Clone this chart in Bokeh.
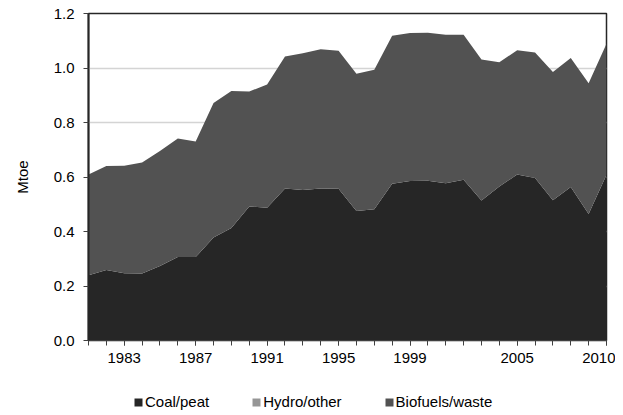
from bokeh.plotting import figure
from bokeh.layouts import column
from bokeh.models import ColumnDataSource, FixedTicker, Legend, LegendItem, Range1d, NumeralTickFormatter
from bokeh.embed import file_html
from bokeh.resources import INLINE

years = list(range(1981, 2011))
coal_peat = [0.239, 0.259, 0.247, 0.246, 0.273, 0.306, 0.306, 0.378, 0.413, 0.492,
             0.487, 0.558, 0.552, 0.558, 0.557, 0.475, 0.482, 0.575, 0.585, 0.586,
             0.577, 0.590, 0.514, 0.565, 0.609, 0.596, 0.515, 0.563, 0.464, 0.608]
hydro_other = [0.0] * 30
total = [0.609, 0.640, 0.641, 0.653, 0.695, 0.741, 0.730, 0.872, 0.916, 0.914,
         0.939, 1.042, 1.054, 1.069, 1.063, 0.979, 0.994, 1.118, 1.128, 1.129,
         1.122, 1.122, 1.031, 1.021, 1.065, 1.057, 0.985, 1.037, 0.944, 1.089]
biofuels_waste = [round(t - c, 3) for t, c in zip(total, coal_peat)]

series_names = ["Coal/peat", "Hydro/other", "Biofuels/waste"]
series_colors = ["#262626", "#969696", "#525252"]
label_years = [1983, 1987, 1991, 1995, 1999, 2005, 2010]
y_ticks = [0.0, 0.2, 0.4, 0.6, 0.8, 1.0, 1.2]

source = ColumnDataSource(dict(year=years, coal=coal_peat, hydro=hydro_other, bio=biofuels_waste))

FONT = "Liberation Sans"

p = figure(width=615, height=380, output_backend="svg", toolbar_location=None,
           x_range=Range1d(1981, 2010), y_range=Range1d(0, 1.2),
           min_border_left=88, min_border_right=9, min_border_top=13, min_border_bottom=40)

renderers = p.varea_stack(stackers=["coal", "hydro", "bio"], x="year", color=series_colors, source=source)

p.outline_line_color = "#262626"
p.outline_line_width = 1.5

p.xgrid.visible = False
p.ygrid.ticker = FixedTicker(ticks=y_ticks)
p.ygrid.grid_line_color = "#d4d4d4"
p.ygrid.grid_line_width = 1.5

# x axis
xa = p.xaxis[0]
xa.ticker = FixedTicker(ticks=label_years, minor_ticks=years)
xa.major_tick_out = 5
xa.major_tick_in = 0
xa.minor_tick_out = 5
xa.minor_tick_in = 0
xa.axis_line_color = "#404040"
xa.axis_line_width = 1
xa.major_tick_line_color = "#404040"
xa.minor_tick_line_color = "#404040"
xa.major_label_text_font = FONT
xa.major_label_text_font_size = "15px"
xa.major_label_text_color = "#000000"
xa.major_label_standoff = 7

# y axis
ya = p.yaxis[0]
ya.ticker = FixedTicker(ticks=y_ticks)
ya.formatter = NumeralTickFormatter(format="0.0")
ya.major_tick_out = 5
ya.major_tick_in = 0
ya.minor_tick_out = 0
ya.minor_tick_in = 0
ya.axis_line_color = "#262626"
ya.axis_line_width = 2
ya.major_tick_line_color = "#404040"
ya.major_label_text_font = FONT
ya.major_label_text_font_size = "15px"
ya.major_label_text_color = "#000000"
ya.major_label_standoff = 9
ya.axis_label = "Mtoe"
ya.axis_label_text_font = FONT
ya.axis_label_text_font_size = "15px"
ya.axis_label_text_font_style = "normal"
ya.axis_label_text_color = "#000000"
ya.axis_label_standoff = 20

# Legend in a separate strip below the chart (renderers there lie outside its visible range)
pl = figure(width=615, height=33, output_backend="svg", toolbar_location=None,
            x_range=Range1d(0, 1), y_range=Range1d(0, 1),
            x_axis_type=None, y_axis_type=None,
            min_border_left=0, min_border_right=0, min_border_top=0, min_border_bottom=0)
pl.outline_line_color = None
pl.xgrid.visible = False
pl.ygrid.visible = False
leg_renderers = pl.varea_stack(stackers=["coal", "hydro", "bio"], x="year", color=series_colors, source=source)

items = [LegendItem(label=n, renderers=[r]) for n, r in zip(series_names, leg_renderers)]
legend = Legend(items=items, orientation="horizontal", location=(45, 3),
                border_line_color=None, background_fill_alpha=0,
                padding=0, margin=0, spacing=42,
                glyph_width=10, glyph_height=10, label_standoff=2,
                label_text_font=FONT, label_text_font_size="15px", label_text_color="#000000")
pl.add_layout(legend, "center")

layout = column(p, pl, spacing=0)
open("out.html", "w").write(file_html(layout, INLINE))
